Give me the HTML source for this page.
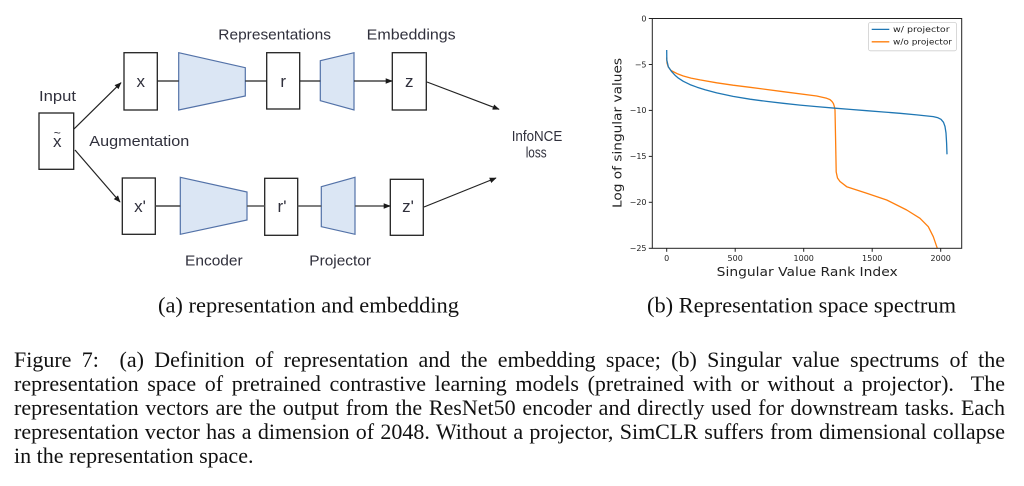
<!DOCTYPE html>
<html>
<head>
<meta charset="utf-8">
<style>
  html, body { margin: 0; padding: 0; background: #fff; }
  body { width: 1024px; height: 486px; overflow: hidden; position: relative; }
  svg { display: block; position: absolute; left: 0; top: 0; }
  .dg { font-family: "Liberation Sans", "DejaVu Sans", sans-serif; fill: #30303c; }
  .mp { font-family: "DejaVu Sans", "Liberation Sans", sans-serif; fill: #222; }
  .cap { font-family: "Liberation Serif", "DejaVu Serif", serif; fill: #111; font-size: 22px; }
  .cl { position: absolute; left: 14px; width: 991px; font-family: "Liberation Serif", "DejaVu Serif", serif;
        font-size: 22px; line-height: 22px; color: #111; white-space: nowrap;
        text-align: justify; text-align-last: justify; }
</style>
</head>
<body>
<svg width="1024" height="486" viewBox="0 0 1024 486" xmlns="http://www.w3.org/2000/svg">
  <defs>
    <marker id="ah" viewBox="0 0 10 10" refX="9" refY="5" markerWidth="7" markerHeight="7" markerUnits="userSpaceOnUse" orient="auto">
      <path d="M0,1 L10,5 L0,9 z" fill="#1a1a1a"/>
    </marker>
    <clipPath id="axclip"><rect x="652.3" y="18.5" width="309.4" height="229.8"/></clipPath>
  </defs>

  <!-- ================= Diagram (a) ================= -->
  <g stroke="#222" stroke-width="1.3" fill="#fff">
    <rect x="39" y="113" width="34.7" height="56.3"/>
    <rect x="124" y="52.7" width="33.3" height="57.3"/>
    <rect x="266.7" y="52.7" width="33" height="56.3"/>
    <rect x="392.3" y="52.7" width="34" height="57.3"/>
    <rect x="122.3" y="178" width="33" height="56.3"/>
    <rect x="264.7" y="178.3" width="33" height="57"/>
    <rect x="390.3" y="179.3" width="33" height="56"/>
  </g>

  <g fill="#dbe6f4" stroke="#5372a8" stroke-width="1.2">
    <polygon points="178.7,52.7 245.3,67.7 245.3,96 178.7,110"/>
    <polygon points="320.3,60.7 354,52.7 354,110 320.3,100.7"/>
    <polygon points="180.3,177.3 247,192 247,220 180.3,234.3"/>
    <polygon points="321.3,186.7 355,177.3 355,234.3 321.3,226.7"/>
  </g>

  <g stroke="#222" stroke-width="1.2" fill="none">
    <line x1="157.3" y1="81" x2="178.7" y2="81"/>
    <line x1="245.3" y1="81" x2="266.7" y2="81"/>
    <line x1="299.7" y1="81" x2="320.3" y2="81"/>
    <line x1="354" y1="81" x2="392" y2="81" marker-end="url(#ah)"/>
    <line x1="155.3" y1="206" x2="180.3" y2="206" stroke="#444" stroke-width="1.4"/>
    <line x1="247" y1="206" x2="264.7" y2="206" stroke="#555" stroke-width="1.4"/>
    <line x1="297.7" y1="206" x2="321.3" y2="206" stroke="#555" stroke-width="1.4"/>
    <line x1="355" y1="206" x2="390" y2="206" stroke="#555" stroke-width="1.4" marker-end="url(#ah)"/>
    <line x1="74" y1="129" x2="121" y2="82.7" marker-end="url(#ah)"/>
    <line x1="75" y1="150" x2="120" y2="202" marker-end="url(#ah)"/>
    <line x1="427" y1="82" x2="499" y2="109.3" marker-end="url(#ah)"/>
    <line x1="424" y1="207" x2="496" y2="178" marker-end="url(#ah)"/>
  </g>

  <g class="dg" font-size="14.5">
    <text x="218.3" y="39.3" textLength="112.7" lengthAdjust="spacingAndGlyphs">Representations</text>
    <text x="366.7" y="39.3" textLength="89" lengthAdjust="spacingAndGlyphs">Embeddings</text>
    <text x="39" y="100.8" textLength="37" lengthAdjust="spacingAndGlyphs">Input</text>
    <text x="89.3" y="146" textLength="100" lengthAdjust="spacingAndGlyphs">Augmentation</text>
    <text x="185" y="265.7" textLength="57.7" lengthAdjust="spacingAndGlyphs">Encoder</text>
    <text x="309.3" y="265.7" textLength="61.7" lengthAdjust="spacingAndGlyphs">Projector</text>
    <text x="511.7" y="141" textLength="50.6" lengthAdjust="spacingAndGlyphs">InfoNCE</text>
    <text x="525.7" y="157.7" textLength="21" lengthAdjust="spacingAndGlyphs">loss</text>
  </g>
  <g class="dg" font-size="17" text-anchor="middle">
    <text x="140.7" y="87">x</text>
    <text x="283.2" y="87">r</text>
    <text x="409.3" y="87">z</text>
    <text x="57.3" y="146.8">x</text>
    <text x="57.3" y="137" font-size="12">~</text>
    <text x="140" y="212">x'</text>
    <text x="282" y="212">r'</text>
    <text x="408" y="212">z'</text>
  </g>

  <!-- ================= Chart (b) ================= -->
  <g clip-path="url(#axclip)" fill="none" stroke-width="1.3" stroke-linejoin="round">
    <polyline stroke="#ff7f0e" points="666.7,57.5 667,63 668.3,67 671,70.5 677,73.6 683.3,76 691,78.1 700,79.9 716.7,82.8 733,85.2 750,87.3 783.3,91.7 816.7,96 826.7,98.3 830,99.6 832,101.5 833.4,103.5 834.4,106.7 835,110 835.6,140 836.2,172 837.5,178 840,181.5 846.7,186.7 866.7,193.3 886.7,200 906.7,210 920,218.3 928.3,226.7 933.3,236.7 937.3,248.3 939,254"/>
    <polyline stroke="#1f77b4" points="666.7,50 666.8,60 668.3,66.7 671.7,71.7 675,75.2 678.5,78.2 683.3,81.3 690,84.6 697,87.2 705,89.8 716.7,92.9 733,96.4 750,99.2 766.7,101.4 783.3,103.3 800,105.1 816.7,106.6 835,108.2 850,109.4 866.7,110.7 883.3,112 900,113.3 916.7,114.9 933.3,116.6 938,117.8 941,119.3 943.5,122.3 945,126.5 946,133 946.6,143 947,154.3"/>
  </g>

  <rect x="652.3" y="18.5" width="309.4" height="229.8" fill="none" stroke="#222" stroke-width="1"/>

  <g stroke="#222" stroke-width="1">
    <line x1="648.8" y1="18.5" x2="652.3" y2="18.5"/>
    <line x1="648.8" y1="64.5" x2="652.3" y2="64.5"/>
    <line x1="648.8" y1="110.4" x2="652.3" y2="110.4"/>
    <line x1="648.8" y1="156.4" x2="652.3" y2="156.4"/>
    <line x1="648.8" y1="202.3" x2="652.3" y2="202.3"/>
    <line x1="648.8" y1="248.3" x2="652.3" y2="248.3"/>
    <line x1="666.7" y1="248.3" x2="666.7" y2="251.8"/>
    <line x1="735.2" y1="248.3" x2="735.2" y2="251.8"/>
    <line x1="803.7" y1="248.3" x2="803.7" y2="251.8"/>
    <line x1="872.2" y1="248.3" x2="872.2" y2="251.8"/>
    <line x1="940.7" y1="248.3" x2="940.7" y2="251.8"/>
  </g>
  <g class="mp" font-size="8" text-anchor="end">
    <text x="646.5" y="21.3">0</text>
    <text x="646.5" y="67.3">−5</text>
    <text x="646.5" y="113.2">−10</text>
    <text x="646.5" y="159.2">−15</text>
    <text x="646.5" y="205.1">−20</text>
    <text x="646.5" y="251.1">−25</text>
  </g>
  <g class="mp" font-size="8" text-anchor="middle">
    <text x="666.7" y="261">0</text>
    <text x="735.2" y="261">500</text>
    <text x="803.7" y="261">1000</text>
    <text x="872.2" y="261">1500</text>
    <text x="940.7" y="261">2000</text>
  </g>
  <text class="mp" x="716.7" y="276" font-size="12" textLength="181" lengthAdjust="spacingAndGlyphs">Singular Value Rank Index</text>
  <text class="mp" transform="translate(621.5,208) rotate(-90)" x="0" y="0" font-size="12" textLength="150" lengthAdjust="spacingAndGlyphs">Log of singular values</text>

  <rect x="868.5" y="22.5" width="88" height="28.3" rx="2" fill="#fff" stroke="#cfcfcf" stroke-width="0.8"/>
  <line x1="871.7" y1="29.4" x2="889.3" y2="29.4" stroke="#1f77b4" stroke-width="1.3"/>
  <line x1="871.7" y1="41.8" x2="889.3" y2="41.8" stroke="#ff7f0e" stroke-width="1.3"/>
  <g class="mp" font-size="7.5">
    <text x="893" y="32.2" textLength="56.6" lengthAdjust="spacingAndGlyphs">w/ projector</text>
    <text x="893" y="44.6" textLength="59" lengthAdjust="spacingAndGlyphs">w/o projector</text>
  </g>

  <text class="cap" x="158" y="312.3" textLength="301" lengthAdjust="spacingAndGlyphs">(a) representation and embedding</text>
  <text class="cap" x="647" y="312.3" textLength="309" lengthAdjust="spacingAndGlyphs">(b) Representation space spectrum</text>
</svg>

<div class="cl" style="top:349.1px">Figure 7:&nbsp; (a) Definition of representation and the embedding space; (b) Singular value spectrums of the</div>
<div class="cl" style="top:372.9px">representation space of pretrained contrastive learning models (pretrained with or without a projector).&nbsp; The</div>
<div class="cl" style="top:396.8px">representation vectors are the output from the ResNet50 encoder and directly used for downstream tasks. Each</div>
<div class="cl" style="top:420.8px">representation vector has a dimension of 2048. Without a projector, SimCLR suffers from dimensional collapse</div>
<div class="cl" style="top:444.9px; text-align:left; text-align-last:left;">in the representation space.</div>
</body>
</html>
